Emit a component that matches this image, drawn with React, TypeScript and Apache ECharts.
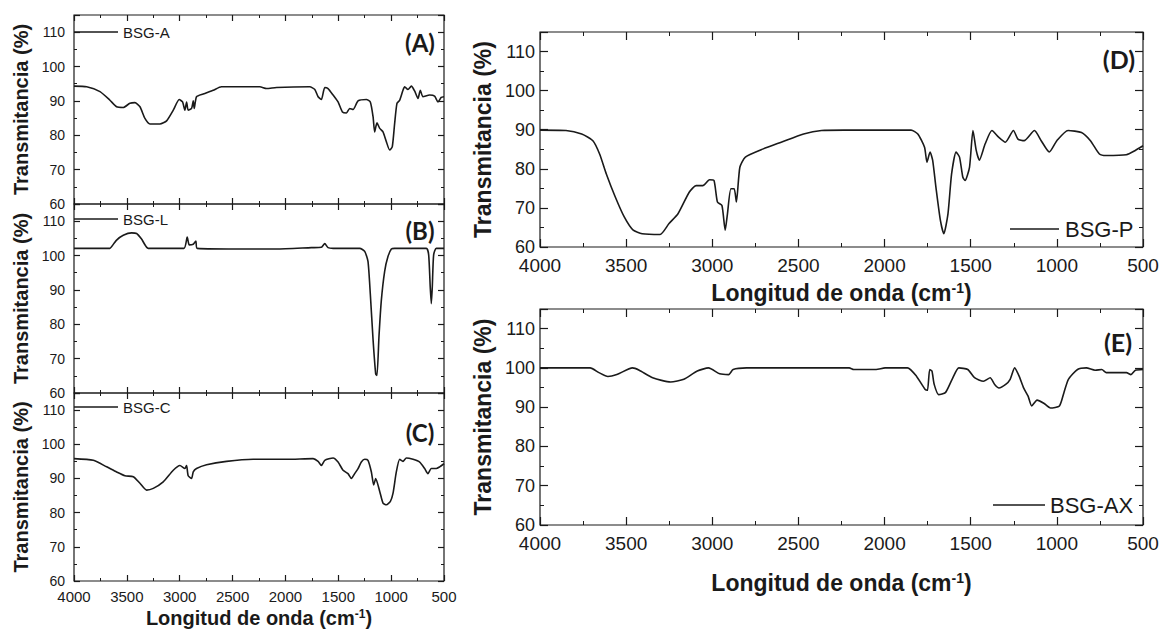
import React, { useEffect, useRef } from "react";
import * as echarts from "echarts";

// ---------- data (wavenumber cm-1, transmittance %) ----------
const waveA = [4000, 3880, 3754, 3660, 3597, 3534, 3471, 3424, 3376, 3329, 3282, 3187, 3124, 3061, 3005, 2973, 2951, 2935, 2920, 2888, 2872, 2863, 2841, 2778, 2683, 2605, 2242, 2179, 2085, 1770, 1722, 1691, 1660, 1628, 1597, 1549, 1502, 1461, 1423, 1392, 1360, 1313, 1234, 1197, 1171, 1156, 1134, 1108, 1077, 1045, 1014, 989, 967, 945, 919, 888, 872, 841, 809, 778, 746, 724, 699, 636, 589, 557, 526, 500];
const transA = [94.3, 94.1, 92.7, 90.2, 88.3, 88.1, 89.3, 89.5, 88.3, 84.9, 83.3, 83.3, 84.2, 87.3, 90.4, 89.7, 87.3, 89.7, 87.3, 87.8, 90.0, 87.8, 91.2, 92.0, 93.1, 94.1, 94.1, 93.6, 93.9, 94.1, 93.3, 91.2, 90.4, 93.9, 93.6, 91.7, 89.7, 86.8, 86.5, 87.8, 87.5, 90.0, 90.4, 89.7, 85.4, 81.0, 83.6, 82.0, 81.0, 78.1, 75.7, 76.7, 83.4, 89.3, 90.2, 93.1, 94.1, 93.3, 94.3, 92.9, 90.7, 93.1, 91.2, 91.7, 91.4, 89.7, 91.0, 91.2];

const waveB = [4000, 3660, 3644, 3597, 3534, 3455, 3408, 3361, 3298, 2960, 2929, 2910, 2872, 2847, 2835, 2368, 2085, 1754, 1660, 1628, 1597, 1549, 1297, 1250, 1219, 1197, 1171, 1146, 1134, 1115, 1093, 1061, 1030, 998, 967, 667, 645, 630, 620, 611, 598, 573, 500];
const transB = [102.1, 102.1, 102.6, 104.5, 105.9, 106.6, 106.4, 104.8, 102.1, 102.1, 105.4, 103.1, 103.3, 104.2, 102.1, 101.9, 101.9, 102.3, 102.4, 103.5, 102.3, 102.1, 102.1, 101.2, 98.3, 88.8, 75.5, 65.5, 65.1, 76.5, 86.9, 95.5, 99.7, 101.9, 102.1, 102.1, 100.2, 90.7, 86.0, 90.7, 100.2, 102.1, 102.1];

const waveC = [4000, 3817, 3691, 3597, 3518, 3439, 3376, 3313, 3250, 3156, 3061, 2998, 2951, 2935, 2920, 2888, 2872, 2841, 2746, 2557, 2305, 1990, 1738, 1691, 1660, 1628, 1549, 1502, 1455, 1408, 1376, 1345, 1313, 1282, 1250, 1219, 1187, 1165, 1146, 1108, 1077, 1045, 1007, 982, 951, 919, 888, 856, 793, 730, 683, 652, 620, 573, 541, 500];
const transC = [95.8, 95.3, 93.4, 91.9, 90.8, 90.5, 88.6, 86.6, 87.1, 89.0, 92.4, 93.8, 92.9, 93.8, 90.8, 90.0, 91.9, 92.9, 94.0, 95.0, 95.6, 95.6, 95.8, 95.0, 93.8, 95.3, 96.0, 94.8, 92.4, 91.4, 90.0, 91.4, 92.9, 94.8, 95.6, 95.3, 91.9, 88.1, 90.0, 86.2, 82.8, 82.3, 83.3, 85.7, 91.9, 95.6, 95.0, 96.0, 95.6, 94.8, 92.9, 91.4, 92.9, 92.9, 93.4, 94.3];

const waveD = [4000, 3849, 3758, 3693, 3654, 3615, 3563, 3511, 3459, 3407, 3303, 3251, 3199, 3134, 3094, 3055, 3016, 2990, 2970, 2944, 2925, 2912, 2892, 2873, 2860, 2840, 2808, 2704, 2600, 2470, 2366, 2236, 1846, 1807, 1768, 1754, 1736, 1721, 1702, 1676, 1656, 1632, 1611, 1585, 1565, 1546, 1533, 1507, 1487, 1468, 1450, 1416, 1377, 1338, 1299, 1252, 1226, 1190, 1130, 1091, 1044, 1000, 935, 857, 805, 753, 714, 597, 545, 500];
const transD = [89.9, 89.8, 88.9, 87.2, 83.8, 78.7, 72.8, 67.7, 64.3, 63.4, 63.2, 66.0, 68.5, 74.0, 75.7, 75.7, 77.2, 77.0, 71.5, 70.6, 64.3, 68.5, 74.9, 74.9, 71.5, 80.4, 83.0, 85.1, 86.8, 88.9, 89.8, 89.9, 89.9, 88.9, 85.5, 81.7, 84.3, 82.2, 75.3, 66.8, 63.4, 68.5, 78.7, 84.3, 83.0, 77.9, 77.0, 80.4, 89.8, 84.7, 82.2, 86.4, 89.8, 88.1, 86.8, 89.8, 87.6, 87.2, 89.8, 87.2, 84.3, 87.2, 89.8, 89.3, 87.2, 83.8, 83.4, 83.6, 84.7, 85.9];

const waveE = [4000, 3709, 3658, 3606, 3554, 3463, 3424, 3346, 3242, 3165, 3087, 3022, 2957, 2905, 2879, 2801, 2205, 2179, 2049, 1997, 1867, 1815, 1764, 1751, 1738, 1725, 1712, 1686, 1647, 1608, 1569, 1517, 1478, 1426, 1387, 1361, 1336, 1297, 1271, 1245, 1219, 1193, 1167, 1146, 1115, 1076, 1037, 985, 959, 933, 880, 829, 778, 739, 713, 674, 596, 570, 544, 500];
const transE = [100.0, 100.0, 98.8, 97.8, 98.3, 100.0, 99.4, 97.5, 96.4, 97.1, 99.2, 100.0, 98.5, 98.3, 99.6, 100.0, 100.0, 99.6, 99.6, 100.0, 100.0, 97.9, 94.5, 94.3, 99.6, 99.2, 95.8, 93.2, 93.7, 97.1, 100.0, 99.6, 97.5, 96.6, 97.5, 95.8, 94.9, 95.8, 97.1, 100.0, 97.9, 94.9, 92.8, 90.3, 91.8, 91.0, 89.8, 90.3, 93.7, 97.1, 99.6, 100.0, 99.4, 99.6, 98.8, 98.8, 98.8, 98.3, 99.4, 99.6];

const seriesNames = ["BSG-A", "BSG-L", "BSG-C", "BSG-P", "BSG-AX"];
const panelLabels = ["(A)", "(B)", "(C)", "(D)", "(E)"];
const xTitle = "Longitud de onda (cm";
const yTitle = "Transmitancia (%)";
const xMin = 500;
const xMax = 4000;
const xStep = 500;
const yMin = 60;
const yStep = 10;

const FONT = "Liberation Sans, Arial, Helvetica, sans-serif";
const INK = "#1a1a1a";

type Panel = {
  left: number; top: number; width: number; height: number; yMax: number;
  showX: boolean; small: boolean; xNameGap: number; yNameGap: number;
  labelMarginX: number; labelMarginY: number;
};

const panels: Panel[] = [
  { left: 74, top: 15, width: 370, height: 189, yMax: 115, showX: false, small: true, xNameGap: 27, yNameGap: 43, labelMarginX: 8, labelMarginY: 9 },
  { left: 74, top: 204, width: 370, height: 189, yMax: 115, showX: false, small: true, xNameGap: 27, yNameGap: 43, labelMarginX: 8, labelMarginY: 9 },
  { left: 74, top: 393, width: 370, height: 188, yMax: 115, showX: true, small: true, xNameGap: 27, yNameGap: 43, labelMarginX: 8, labelMarginY: 9 },
  { left: 540, top: 32, width: 603, height: 215, yMax: 115, showX: true, small: false, xNameGap: 34, yNameGap: 44, labelMarginX: 9, labelMarginY: 5 },
  { left: 540, top: 309, width: 603, height: 216, yMax: 115, showX: true, small: false, xNameGap: 46, yNameGap: 44, labelMarginX: 9, labelMarginY: 5 },
];

const waves = [waveA, waveB, waveC, waveD, waveE];
const trans = [transA, transB, transC, transD, transE];

function zip(w: number[], t: number[]) {
  return w.map((v, i) => [v, t[i]]);
}

function buildOption() {
  const grid: any[] = [];
  const xAxis: any[] = [];
  const yAxis: any[] = [];
  const series: any[] = [];

  panels.forEach((p, i) => {
    grid.push({
      left: p.left, top: p.top, width: p.width, height: p.height,
      show: true, borderColor: INK, borderWidth: 1.2, backgroundColor: "transparent",
      containLabel: false, outerBoundsMode: "none",
    });
    const tickLen = p.small ? 6 : 8;
    const xLabelSize = p.small ? 15 : 19;
    const yLabelSize = p.small ? 14 : 18;
    const titleSize = p.small ? 20 : 23;
    const common = {
      gridIndex: i, type: "value", min: xMin, max: xMax, interval: xStep, inverse: true,
      axisLine: { show: false },
      axisTick: { show: true, inside: true, length: tickLen, lineStyle: { color: INK, width: 1.2 } },
      minorTick: { show: true, splitNumber: 2, length: tickLen / 2, lineStyle: { color: INK, width: 1 } },
      splitLine: { show: false },
      minorSplitLine: { show: false },
    };
    xAxis.push({
      ...common,
      position: "bottom",
      axisLabel: {
        show: p.showX, fontSize: xLabelSize, color: INK, fontFamily: FONT, margin: p.labelMarginX,
        formatter: (v: number) => String(v),
      },
      name: p.showX ? `{a|${xTitle}}{s|-1}{a|)}` : "",
      nameLocation: "middle",
      nameGap: p.xNameGap,
      nameTextStyle: {
        rich: {
          a: { fontSize: titleSize, fontWeight: "bold", fontFamily: FONT, color: INK },
          s: { fontSize: Math.round(titleSize * 0.6), fontWeight: "bold", fontFamily: FONT, color: INK, verticalAlign: "top" },
        },
      },
    });
    xAxis.push({ ...common, position: "top", axisLabel: { show: false } });

    const yCommon = {
      gridIndex: i, type: "value", min: yMin, max: p.yMax, interval: yStep,
      axisLine: { show: false },
      axisTick: { show: true, inside: true, length: tickLen, lineStyle: { color: INK, width: 1.2 } },
      minorTick: { show: true, splitNumber: 2, length: tickLen / 2, lineStyle: { color: INK, width: 1 } },
      splitLine: { show: false },
    };
    yAxis.push({
      ...yCommon,
      position: "left",
      axisLabel: {
        fontSize: yLabelSize, color: INK, fontFamily: FONT, margin: p.labelMarginY,
        formatter: (v: number) => (v % 10 === 0 ? String(v) : ""),
      },
      name: yTitle,
      nameLocation: "middle",
      nameGap: p.yNameGap,
      nameTextStyle: { fontSize: titleSize, fontWeight: "bold", fontFamily: FONT, color: INK },
    });
    yAxis.push({ ...yCommon, position: "right", axisLabel: { show: false } });

    series.push({
      name: seriesNames[i],
      type: "line",
      xAxisIndex: i * 2,
      yAxisIndex: i * 2,
      data: zip(waves[i], trans[i]),
      showSymbol: false,
      symbol: "none",
      smooth: 0.2,
      lineStyle: { color: INK, width: 1.6 },
      clip: true,
    });
  });

  // legend-like keys and panel letters
  const keys = [
    { x1: 74, x2: 118, y: 32, tx: 123, size: 15 },
    { x1: 74, x2: 118, y: 219, tx: 123, size: 15 },
    { x1: 74, x2: 118, y: 407, tx: 123, size: 15 },
    { x1: 1010, x2: 1059, y: 229, tx: 1065, size: 22 },
    { x1: 993, x2: 1045, y: 505, tx: 1050, size: 22 },
  ];
  const letterPos = [
    [420, 42], [420, 230], [420, 432], [1119, 59], [1118, 342],
  ];
  const graphic: any[] = [];
  keys.forEach((k, i) => {
    graphic.push({
      type: "line", silent: true,
      shape: { x1: k.x1, y1: k.y, x2: k.x2, y2: k.y },
      style: { stroke: INK, lineWidth: 1.5 },
    });
    graphic.push({
      type: "text", silent: true, x: k.tx, y: k.y,
      style: {
        text: seriesNames[i], fill: INK, fontSize: k.size, fontFamily: FONT,
        align: "left", verticalAlign: "middle", textAlign: "left", textVerticalAlign: "middle",
      },
    });
    graphic.push({
      type: "text", silent: true, x: letterPos[i][0], y: letterPos[i][1],
      style: {
        text: panelLabels[i], fill: INK, fontSize: i < 3 ? 24 : 25, fontWeight: "bold",
        fontFamily: "Lato, Open Sans, sans-serif",
        align: "center", verticalAlign: "middle", textAlign: "center", textVerticalAlign: "middle",
      },
    });
  });

  return {
    animation: false,
    backgroundColor: "#ffffff",
    grid, xAxis, yAxis, series, graphic,
  };
}

export default function App() {
  const ref = useRef<HTMLDivElement>(null);
  useEffect(() => {
    if (!ref.current) return;
    const chart = echarts.init(ref.current, undefined, { renderer: "svg" });
    chart.setOption(buildOption() as any);
    return () => chart.dispose();
  }, []);
  return (
    <div
      ref={ref}
      style={{ position: "fixed", left: 0, top: 0, width: 1161, height: 637, background: "#fff" }}
    />
  );
}
